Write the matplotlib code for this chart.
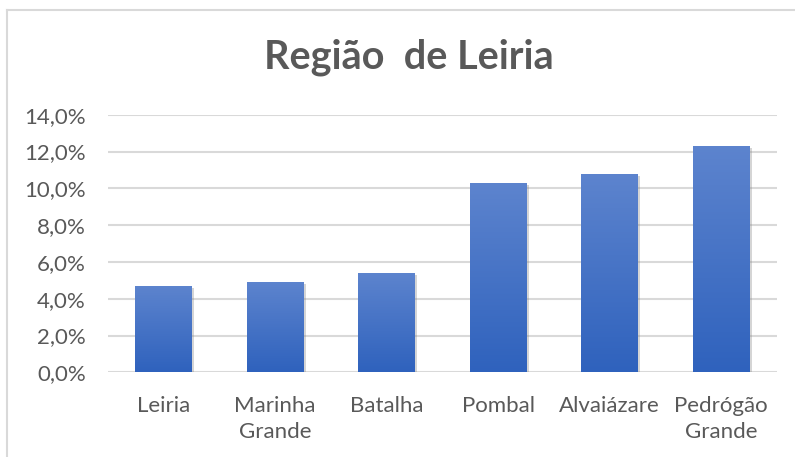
import numpy as np
import matplotlib
matplotlib.use("Agg")
import matplotlib.pyplot as plt
from matplotlib.lines import Line2D
from matplotlib.ticker import FuncFormatter
import matplotlib.patheffects as pe

# data
categories = ["Leiria", "Marinha\nGrande", "Batalha", "Pombal", "Alvaiázare", "Pedrógão\nGrande"]
values = [4.7, 4.9, 5.4, 10.3, 10.8, 12.3]
yticks = [0, 2, 4, 6, 8, 10, 12, 14]

plt.rcParams['font.family'] = ['Lato', 'DejaVu Sans']
text_col = '#595959'
grid_col = '#D9D9D9'

W, H = 795, 457
fig = plt.figure(figsize=(W / 100, H / 100), dpi=100)
ax = fig.add_axes([108 / W, 1 - 372.3 / H, (777 - 108) / W, (372.3 - 114.7) / H])

x = np.arange(len(categories))
bars = ax.bar(x, values, width=0.51, color='none', zorder=3,
              path_effects=[pe.SimplePatchShadow(offset=(1.5, -1.5), shadow_rgbFace='#888888', alpha=0.35),
                            pe.Normal()])

# vertical gradient in each bar (lighter on top)
grad = np.linspace(0, 1, 256).reshape(-1, 1)
cmap = matplotlib.colors.LinearSegmentedColormap.from_list('g', ['#2F62BD', '#5D84CE'])
for b in bars:
    x0, y0 = b.get_x(), b.get_y()
    im = ax.imshow(grad, extent=[x0, x0 + b.get_width(), y0, y0 + b.get_height()],
                   origin='lower', cmap=cmap, aspect='auto', zorder=4)
    im.set_clip_path(b)

ax.set_xlim(-0.5, len(categories) - 0.5)
ax.set_ylim(0, 14)
ax.set_yticks(yticks)
ax.yaxis.set_major_formatter(FuncFormatter(lambda v, p: f"{v:.1f}%".replace('.', ',')))
ax.set_xticks(x)
ax.set_xticklabels(categories, linespacing=1.4)
ax.grid(axis='y', color=grid_col, linewidth=1.5, zorder=0)
ax.set_axisbelow(True)
for s in ax.spines.values():
    s.set_visible(False)
ax.tick_params(axis='both', length=0, labelsize=16, colors=text_col)
ax.tick_params(axis='y', pad=16)
ax.tick_params(axis='x', pad=17)

fig.text(408.5 / W, 1 - 57 / H, "Região  de Leiria", ha='center', va='center',
         fontsize=28.5, fontweight='bold', color=text_col)

# chart border (only left and top visible in the crop)
fig.add_artist(Line2D([7 / W, 7 / W], [0, 1 - 10 / H], color=grid_col, linewidth=1.5, transform=fig.transFigure))
fig.add_artist(Line2D([7 / W, 1], [1 - 10 / H, 1 - 10 / H], color=grid_col, linewidth=1.5, transform=fig.transFigure))

fig.savefig("out.png", dpi=100)
